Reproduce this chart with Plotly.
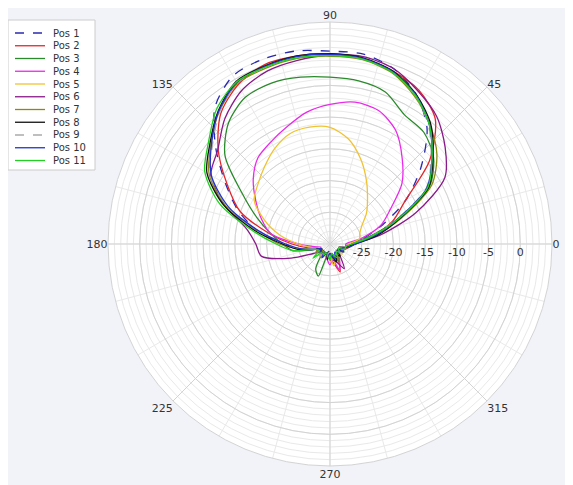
import plotly.graph_objects as go

theta_deg = list(range(0, 360, 10))

series_names = ["Pos 1", "Pos 2", "Pos 3", "Pos 4", "Pos 5", "Pos 6",
                "Pos 7", "Pos 8", "Pos 9", "Pos 10", "Pos 11"]

pos1 = [-26, -24.5, -21.2, -16.2, -11.3, -6.2, -2.8, -0.6, 0.4, 0.4, 0.9, 1.0, 0.6, -1.8, -6.5, -11, -14.6, -18.5,
        -23, -25, -27.5, -28.5, -27.8, -28.5, -29, -28, -28.8, -28, -28.5, -27.5, -28.5, -27.8, -28.5, -28, -27.5, -27]
pos2 = [-26.5, -23.5, -19.5, -16.3, -9.5, -4.2, -2.0, -1.0, -0.3, 0.0, 0.1, 0.1, -1.0, -3.2, -7.0, -11.3, -14.9, -20.2,
        -24, -26.5, -28, -27.5, -28.5, -27.8, -28.5, -28, -28.5, -27.5, -27, -25.3, -27.5, -28.5, -28, -28.5, -27.5, -27]
pos3 = [-27, -24, -18.7, -11.9, -8.7, -7.0, -6.5, -4.5, -3.9, -3.7, -3.3, -3.0, -3.3, -5.1, -8.4, -14, -17.7, -20.5,
        -22.5, -24, -27.5, -28, -28.5, -28, -25.5, -24.6, -28.5, -28, -28.5, -27.5, -27, -28.5, -28, -28.5, -27.5, -27.5]
pos4 = [-27.5, -25, -21.5, -19, -15.2, -12.3, -9.3, -7.6, -7.3, -8.0, -8.9, -10.3, -11.4, -12.3, -14.2, -16.5, -18.5, -20.5,
        -25, -27.5, -28.5, -28, -28.5, -28, -28.5, -28, -27.5, -26.7, -27.5, -25.6, -27, -28.5, -28, -28.5, -28, -27.5]
pos5 = [-27, -25.3, -25, -24.2, -22.5, -20.8, -18.5, -15.8, -13.2, -11.6, -11.3, -11.5, -12.6, -14, -15.2, -16.2, -19, -22,
        -25, -27, -28, -28.5, -27.6, -27.5, -28.5, -28, -28.5, -28, -26.5, -27.5, -28, -28.5, -27.5, -28, -28.5, -27.5]
pos6 = [-26.5, -22, -15.6, -9.1, -6.3, -3.8, -2.2, -0.6, 0.0, -0.2, -0.6, -1.0, -2.1, -4.2, -6.9, -8.3, -12.4, -16.7,
        -18.3, -19.0, -23.5, -27, -28, -28.5, -28, -28.5, -28, -28.5, -27.5, -27, -25.5, -27.5, -28.5, -28, -28.5, -27.5]
pos7 = [-26.5, -23, -18, -11.5, -8, -5.5, -3.2, -1.3, -0.5, -0.4, -0.3, -0.5, -0.8, -2.8, -5.5, -8.0, -12.5, -18.5,
        -22, -25.5, -28, -27.5, -28.5, -28, -27.5, -28.5, -28, -28.5, -27.5, -28, -27, -28, -28.5, -27.5, -28, -27]
pos8 = [-26, -22.5, -18.3, -12, -8.8, -5.3, -2.8, -1.0, -0.2, 0.0, 0.1, -0.1, -0.4, -2.6, -5.3, -7.6, -12.2, -18,
        -22.5, -25, -27.5, -28.5, -28, -28.5, -28, -28.5, -27.5, -28.5, -28, -27, -28, -27.5, -28.5, -28, -28.5, -27.5]
pos9 = [-26.5, -23.5, -19, -12.5, -9.2, -5.8, -3.0, -1.2, -0.4, -0.2, -0.1, -0.3, -0.7, -2.9, -5.8, -8.2, -12.8, -18.6,
        -23, -25.5, -28, -28.5, -28, -27.5, -28.5, -28, -28.5, -28, -27.5, -28.5, -28, -28.5, -27.5, -28, -28.5, -27.5]
pos10 = [-26, -23, -18.8, -12.4, -9.0, -5.6, -2.9, -1.1, -0.3, -0.1, 0.0, -0.2, -0.6, -2.7, -5.6, -8.4, -13, -18.8,
         -23, -25.5, -27.5, -28.5, -28, -28.5, -27.5, -28.5, -28, -28.5, -28, -27.5, -28.5, -28, -28.5, -27.5, -28, -27]
pos11 = [-26.5, -23.5, -18.6, -12.2, -9.0, -5.6, -3.0, -1.2, -0.4, -0.3, -0.2, -0.3, -0.5, -2.2, -5.0, -7.2, -11.5, -17.5,
         -21.5, -24, -27.5, -28, -26.5, -28.5, -28, -28.5, -28, -27.5, -28.5, -28, -27.5, -28.5, -28, -28.5, -27.5, -27.5]

series_values = [pos1, pos2, pos3, pos4, pos5, pos6, pos7, pos8, pos9, pos10, pos11]

colors = ["#2a2ab0", "#e4262a", "#2b8a2b", "#ea2aea", "#f1c232", "#8a1a8a",
          "#8a8a10", "#111111", "#aaaaaa", "#2233d0", "#22d022"]
dashes = ["dash", "solid", "solid", "solid", "solid", "solid",
          "solid", "solid", "dash", "solid", "solid"]

radial_ticks = [-25, -20, -15, -10, -5, 0]
angular_ticks = [0, 45, 90, 135, 180, 225, 270, 315]

# the page has an 8px body margin, so the figure is laid out 8px in from the window corner
OFF = 8
W, H = 565, 477
cx, cy, R = 330 - OFF, 244 - OFF, 222
dom_x = [(cx - R) / W, (cx + R) / W]
dom_y = [(H - (cy + R)) / H, (H - (cy - R)) / H]

fig = go.Figure()

# invisible trace to activate the minor-grid polar subplot
fig.add_trace(go.Scatterpolar(r=[-30], theta=[0], mode="markers",
                              marker=dict(size=1, opacity=0), hoverinfo="skip",
                              showlegend=False, subplot="polar"))

for name, vals, col, dsh in zip(series_names, series_values, colors, dashes):
    fig.add_trace(go.Scatterpolar(
        r=vals + [vals[0]], theta=theta_deg + [theta_deg[0]],
        mode="lines", name=name, subplot="polar2", showlegend=False,
        line=dict(color=col, width=1.3, dash=dsh, shape="spline", smoothing=0.8)))

minor_grid = "#e9e9e9"
major_grid = "#d3d3d3"
font_col = "#333333"

fig.update_layout(
    width=W, height=H,
    margin=dict(l=0, r=0, t=0, b=0),
    paper_bgcolor="#f2f3f9",
    font=dict(family="DejaVu Sans", size=11, color=font_col),
    polar=dict(
        domain=dict(x=dom_x, y=dom_y),
        bgcolor="white",
        radialaxis=dict(range=[-30, 5], tickmode="linear", tick0=-30, dtick=1,
                        showticklabels=False, ticks="", showline=False,
                        gridcolor=minor_grid, gridwidth=1),
        angularaxis=dict(tickmode="linear", tick0=0, dtick=15, showticklabels=False,
                         ticks="", showline=True, linecolor="#d3d3d3",
                         gridcolor=minor_grid, direction="counterclockwise", rotation=0),
    ),
    polar2=dict(
        domain=dict(x=dom_x, y=dom_y),
        bgcolor="rgba(0,0,0,0)",
        radialaxis=dict(range=[-30, 5], tickmode="array", tickvals=radial_ticks,
                        ticktext=[str(v) for v in radial_ticks], ticks="",
                        showline=False, gridcolor=major_grid, angle=0,
                        tickfont=dict(size=11, color=font_col)),
        angularaxis=dict(tickmode="array", tickvals=angular_ticks,
                         ticktext=[str(v) for v in angular_ticks], ticks="",
                         showline=False, gridcolor=major_grid,
                         direction="counterclockwise", rotation=0,
                         tickfont=dict(size=11, color=font_col)),
    ),
)

# legend drawn as a box with line samples and text labels (reference pixel coords)
lx0, lx1, ly0, ly1 = 8 - OFF, 95 - OFF, 20 - OFF, 170 - OFF
shapes = [dict(type="rect", xref="paper", yref="paper",
               x0=lx0 / W, x1=lx1 / W, y0=1 - ly1 / H, y1=1 - ly0 / H,
               line=dict(color="#cccccc", width=1), fillcolor="white", layer="above")]
annotations = []
for i, (name, col, dsh) in enumerate(zip(series_names, colors, dashes)):
    yy = 33 + i * 12.75 - OFF
    shapes.append(dict(type="line", xref="paper", yref="paper",
                       x0=(15 - OFF) / W, x1=(45 - OFF) / W, y0=1 - yy / H, y1=1 - yy / H,
                       line=dict(color=col, width=1.3, dash=dsh), layer="above"))
    annotations.append(dict(xref="paper", yref="paper", x=(51 - OFF) / W, y=1 - yy / H,
                            text=name, showarrow=False, xanchor="left", yanchor="middle",
                            font=dict(size=10, color=font_col)))
fig.update_layout(shapes=shapes, annotations=annotations)

fig.write_html("out.html")
